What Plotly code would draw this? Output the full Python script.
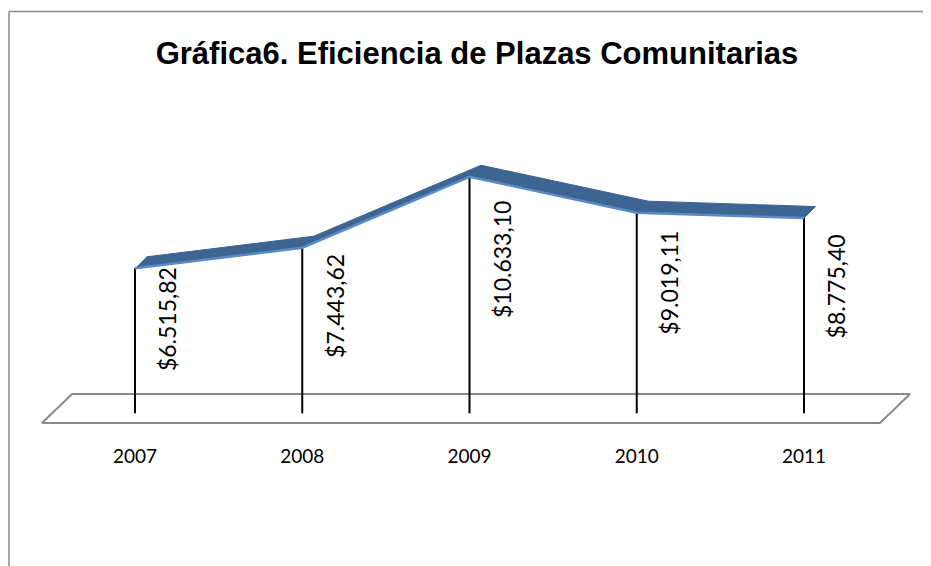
import plotly.graph_objects as go

# data
years = ["2007", "2008", "2009", "2010", "2011"]
values = [6515.82, 7443.62, 10633.10, 9019.11, 8775.40]

PAGE_W, PAGE_H = 931, 566
OFF = 8                                # default body margin of the html page
W, H = PAGE_W - OFF, PAGE_H - OFF
X0_PX, STEP_PX = 135, 167.25          # page pixel of first category, category spacing
ZERO_PX, UNITS_PER_PX = 413.3, 44.95  # page pixel of value 0, value units per pixel
DEPTH_PX = 11.5                        # ribbon depth (3D look)
LABEL_FRAC = 0.65                      # labels centred at this share of the value

BLUE_TOP = "#3D6592"
BLUE_EDGE = "#5A8AC6"
GREY = "#898989"


def xdata(px):
    return (px - X0_PX) / STEP_PX


def ydata(py):
    return (ZERO_PX - py) * UNITS_PER_PX


def es_money(v):
    s = f"{v:,.2f}".replace(",", "_").replace(".", ",").replace("_", ".")
    return "$" + s


idx = list(range(len(years)))
dx = DEPTH_PX / STEP_PX
dy = DEPTH_PX * UNITS_PER_PX

fig = go.Figure()

# floor of the 3D plot
fl, fr = xdata(42), xdata(880)
fd = xdata(42 + 30) - fl
fb, ft = ydata(423), ydata(394)
fig.add_scatter(x=[fl, fr, fr + fd, fl + fd, fl], y=[fb, fb, ft, ft, fb],
                mode="lines", fill="toself", fillcolor="white",
                line=dict(color=GREY, width=2), hoverinfo="skip", showlegend=False)

# drop lines
dxs, dys = [], []
for i, v in zip(idx, values):
    dxs += [i, i, None]
    dys += [0, v, None]
fig.add_scatter(x=dxs, y=dys, mode="lines", line=dict(color="black", width=2),
                hoverinfo="skip", showlegend=False)

# ribbon: front edge + back edge
rx = idx + [i + dx for i in idx[::-1]]
ry = values + [v + dy for v in values[::-1]]
fig.add_scatter(x=rx, y=ry, mode="lines", fill="toself", fillcolor=BLUE_TOP,
                line=dict(color=BLUE_TOP, width=1), hoverinfo="skip", showlegend=False)
fig.add_scatter(x=idx, y=values, mode="lines", line=dict(color=BLUE_EDGE, width=2.5),
                hoverinfo="skip", showlegend=False)

# rotated value labels
for i, v in zip(idx, values):
    fig.add_annotation(x=i + xdata(X0_PX + 32), y=v * LABEL_FRAC, text=es_money(v),
                       textangle=-90, showarrow=False, xanchor="center", yanchor="middle",
                       font=dict(family="Lato", size=23, color="black"))

# chart border: only the top and left edges are inside the window
top = 1 - (11.5 - OFF) / H
fig.add_shape(type="line", xref="paper", yref="paper", x0=1 / W, x1=1, y0=top, y1=top,
              line=dict(color=GREY, width=1.5), layer="below")
fig.add_shape(type="line", xref="paper", yref="paper", x0=1 / W, x1=1 / W, y0=0, y1=top,
              line=dict(color=GREY, width=1.5), layer="below")

fig.update_layout(
    width=W, height=H, margin=dict(l=0, r=0, t=0, b=0),
    plot_bgcolor="white", paper_bgcolor="white",
    title=dict(text="Gráfica6. Eficiencia de Plazas Comunitarias",
               x=(477 - OFF) / W, xanchor="center", y=1 - (53 - OFF) / H, yanchor="middle",
               font=dict(family="Liberation Sans", size=31, color="black", weight="bold")),
    xaxis=dict(range=[xdata(OFF), xdata(PAGE_W)], domain=[0, 1], anchor="free",
               position=(PAGE_H - 443) / H, tickvals=idx, ticktext=years, ticks="",
               showgrid=False, zeroline=False, showline=False,
               tickfont=dict(family="Lato", size=19, color="black")),
    yaxis=dict(range=[ydata(PAGE_H), ydata(OFF)], domain=[0, 1], showgrid=False,
               zeroline=False, showline=False, showticklabels=False),
    showlegend=False,
)

fig.write_html("out.html")
